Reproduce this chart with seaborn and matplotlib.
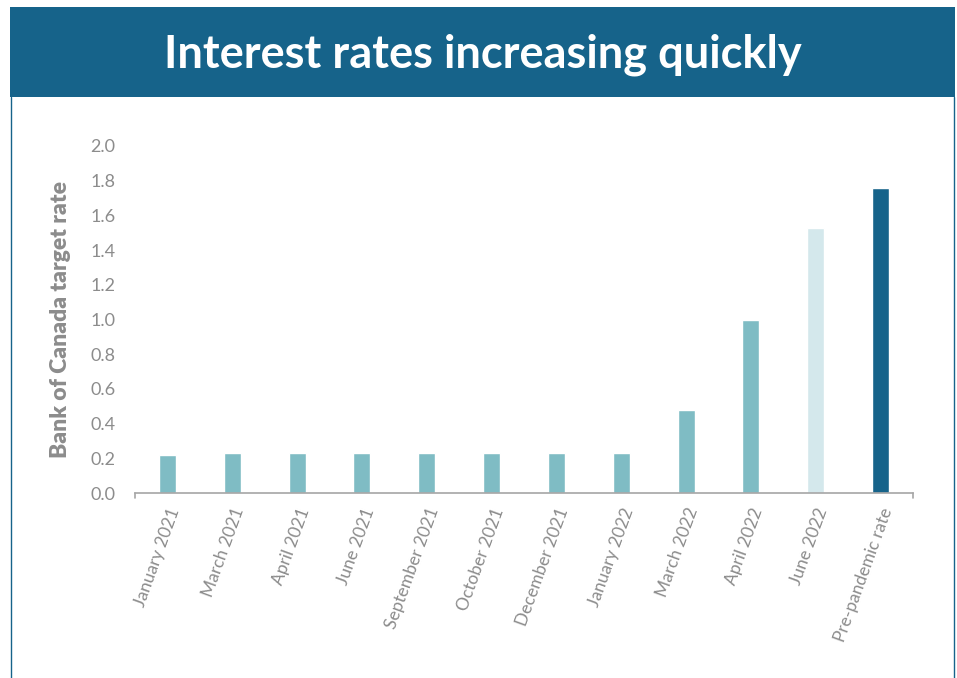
import matplotlib
matplotlib.use("Agg")
import matplotlib.pyplot as plt
import seaborn as sns
import pandas as pd
from matplotlib.patches import Rectangle
from matplotlib.lines import Line2D

categories = ["January 2021", "March 2021", "April 2021", "June 2021", "September 2021",
              "October 2021", "December 2021", "January 2022", "March 2022", "April 2022",
              "June 2022", "Pre-pandemic rate"]
values = [0.22, 0.23, 0.23, 0.23, 0.23, 0.23, 0.23, 0.23, 0.48, 1.00, 1.53, 1.76]
bar_colors = ["#7fbcc4"] * 10 + ["#d4e8ec", "#16638a"]
title = "Interest rates increasing quickly"
ylabel = "Bank of Canada target rate"
yticks = [0.0, 0.2, 0.4, 0.6, 0.8, 1.0, 1.2, 1.4, 1.6, 1.8, 2.0]

sns.set_theme(style="white")
plt.rcParams['font.family'] = ['Lato', 'DejaVu Sans']

W, H = 957, 678
fig = plt.figure(figsize=(W / 100, H / 100), dpi=100)
fig.patch.set_facecolor("white")

# header band
fig.add_artist(Rectangle((10 / W, 1 - 97 / H), 945 / W, 90 / H, transform=fig.transFigure,
                         facecolor="#16638a", edgecolor="none", zorder=0))
fig.text(483 / W, 1 - 55 / H, title, color="white", fontsize=32.5, fontweight="bold",
         ha="center", va="center")
# side borders
fig.add_artist(Line2D([10.5 / W, 10.5 / W], [0, 1 - 97 / H], transform=fig.transFigure,
                      color="#16638a", lw=1))
fig.add_artist(Line2D([953.5 / W, 953.5 / W], [0, 1 - 97 / H], transform=fig.transFigure,
                      color="#16638a", lw=1))

ax = fig.add_axes([135 / W, 1 - 493 / H, (913 - 135) / W, (493 - 146) / H])
df = pd.DataFrame({"cat": categories, "val": values})
sns.barplot(data=df, x="cat", y="val", hue="cat", palette=bar_colors, legend=False,
            width=0.26, saturation=1, ax=ax)
ax.set_xlim(-0.5, len(categories) - 0.5)
ax.set_ylim(0, 2.0)
ax.set_yticks(yticks)
ax.set_yticklabels([f"{t:.1f}" for t in yticks], color="#8c8c8c", fontsize=13)
ax.set_xticks(range(len(categories)))
ax.set_xticklabels(categories, rotation=70, ha="right", rotation_mode="anchor",
                   color="#8c8c8c", fontsize=12.5)
ax.tick_params(axis="x", length=0, pad=9)
ax.tick_params(axis="y", length=0, pad=14)
ax.set_xlabel("")
ax.set_ylabel(ylabel, color="#8c8c8c", fontsize=16.5, fontweight="heavy", labelpad=14)
for s in ["top", "right", "left"]:
    ax.spines[s].set_visible(False)
ax.spines["bottom"].set_color("#a6a6a6")
ax.spines["bottom"].set_linewidth(1.2)
ax.set_facecolor("white")
# end ticks
for xe in [-0.5, len(categories) - 0.5]:
    ax.plot([xe, xe], [0, -0.03], color="#a6a6a6", lw=1.2, clip_on=False)

fig.savefig("out.png", dpi=100, facecolor="white")
